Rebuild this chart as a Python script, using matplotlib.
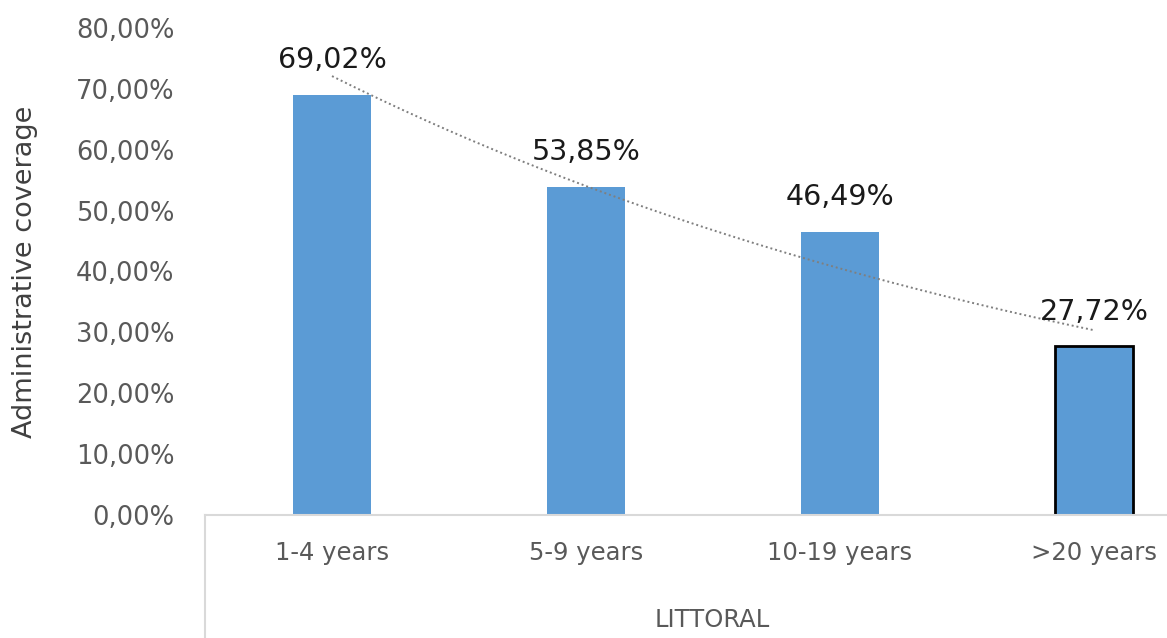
import numpy as np
import matplotlib
matplotlib.use("Agg")
import matplotlib.pyplot as plt
from matplotlib.lines import Line2D

categories = ["1-4 years", "5-9 years", "10-19 years", ">20 years"]
coverage = [69.02, 53.85, 46.49, 27.72]
group_label = "LITTORAL"
y_ticks = [0, 10, 20, 30, 40, 50, 60, 70, 80]
y_title = "Administrative coverage"

BAR = "#5B9BD5"
TXT = "#595959"

plt.rcParams["font.family"] = ["DejaVu Sans"]

fig = plt.figure(figsize=(11.67, 6.38), dpi=100)
ax = fig.add_axes([205 / 1167, 1 - 515 / 638, 1 - 205 / 1167, (515 - 28) / 638])

x = np.arange(len(categories))
edges = ["none"] * (len(categories) - 1) + ["black"]
ax.bar(x, coverage, width=0.31, color=BAR, edgecolor=edges, linewidth=2, zorder=2)

# data labels
for xi, v in zip(x, coverage):
    ax.text(xi, v + 5.7, f"{v:.2f}%".replace(".", ","), ha="center", va="center",
            fontsize=20.5, color="#1a1a1a", zorder=4)

# exponential trendline
n = np.arange(1, len(coverage) + 1)
b, a = np.polyfit(n, np.log(coverage), 1)
xs = np.linspace(0, len(coverage) - 1, 200)
ax.plot(xs, np.exp(a + b * (xs + 1)), linestyle=(0, (1, 1.5)), color="#7f7f7f",
        linewidth=1.4, zorder=3)

ax.set_xlim(-0.5, (1167 - 332) / 254)
ax.set_ylim(0, 80)
ax.set_yticks(y_ticks)
ax.set_yticklabels([f"{t:.2f}%".replace(".", ",") for t in y_ticks])
ax.tick_params(axis="y", length=0, pad=22, labelsize=18.5, labelcolor=TXT)
ax.tick_params(axis="x", length=0, pad=19, labelsize=17.5, labelcolor=TXT)
ax.set_xticks(x)
ax.set_xticklabels(categories)

for s in ["top", "right", "left"]:
    ax.spines[s].set_visible(False)
ax.spines["bottom"].set_color("#d9d9d9")
ax.spines["bottom"].set_linewidth(1.5)

# divider of the category axis below the plot
ax.add_line(Line2D([0, 0], [0, -0.26], transform=ax.transAxes, color="#d9d9d9",
                   linewidth=1.5, clip_on=False))

ax.text((712 - 205) / (1167 - 205), -(620 - 515) / (515 - 28), group_label,
        transform=ax.transAxes, ha="center", va="center", fontsize=17.5, color=TXT)

fig.text(25 / 1167, 1 - 272 / 638, y_title, rotation=90, ha="center", va="center",
         fontsize=19.5, color="#404040")

fig.savefig("out.png", dpi=100)
